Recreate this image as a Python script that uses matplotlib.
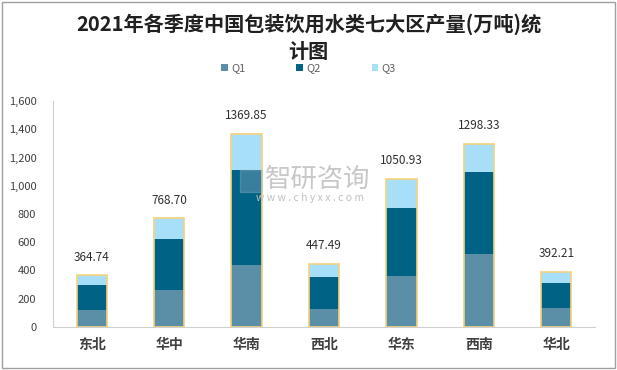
import numpy as np
import matplotlib
matplotlib.use("Agg")
import matplotlib.pyplot as plt
from matplotlib.patches import Rectangle

plt.rcParams['font.family'] = ['Noto Sans CJK SC', 'DejaVu Sans']

regions = ['东北', '华中', '华南', '西北', '华东', '西南', '华北']
q1 = [122, 264, 440, 129, 362, 518, 136]
q2 = [177, 360, 672, 227, 481, 580, 177]
totals = [364.74, 768.70, 1369.85, 447.49, 1050.93, 1298.33, 392.21]
q3 = [t - a - b for t, a, b in zip(totals, q1, q2)]
yticks = [0, 200, 400, 600, 800, 1000, 1200, 1400, 1600]

fig = plt.figure(figsize=(6.17, 3.70), dpi=100)
fig.patches.append(Rectangle((0.003, 0.005), 0.994, 0.99, transform=fig.transFigure,
                             fill=False, edgecolor='#a0a0a0', linewidth=1.0))
ax = fig.add_axes([53 / 617, 43 / 370, 542 / 617, 226 / 370])

x = np.arange(len(regions))
w = 0.39
ax.bar(x, q1, w, color='#5b8fa8', label='Q1', zorder=2)
ax.bar(x, q2, w, bottom=q1, color='#006285', label='Q2', zorder=2)
ax.bar(x, q3, w, bottom=np.array(q1) + np.array(q2), color='#a6dff7', label='Q3', zorder=2)
ax.bar(x, totals, w, fill=False, edgecolor='#f5d27a', linewidth=1.2, zorder=3)

for xi, t in zip(x, totals):
    ax.text(xi, t + 80, f'{t:.2f}', ha='center', va='bottom', fontsize=8.5, color='#303030')

ax.set_xlim(-0.5, len(regions) - 0.5)
ax.set_ylim(0, 1600)
ax.set_yticks(yticks)
ax.set_yticklabels([f'{v:,}' for v in yticks], fontsize=8, color='#404040')
ax.set_xticks(x)
ax.set_xticklabels(regions, fontsize=10, fontweight='bold', color='#404040')
ax.tick_params(axis='both', length=0)
ax.tick_params(axis='x', pad=8)
ax.tick_params(axis='y', pad=12)
for side in ['top', 'right']:
    ax.spines[side].set_visible(False)
ax.spines['left'].set_color('#d0d0d0')
ax.spines['bottom'].set_color('#d0d0d0')

# watermark
fig.text(0.515, 0.515, '智研咨询', fontsize=19, color='#c8c8c8', ha='center', va='center', zorder=0)
fig.text(0.502, 0.465, 'w w w . c h y x x . c o m', fontsize=7.5, color='#c0c0c0', ha='center', va='center')
fig.patches.append(Rectangle((240 / 617, 1 - 192 / 370), 22 / 617, 22 / 370, transform=fig.transFigure,
                             color='#a0b8c8', alpha=0.35, zorder=5))

fig.text(0.5, 0.935, '2021年各季度中国包装饮用水类七大区产量(万吨)统', fontsize=14.5,
         fontweight='bold', ha='center', va='center', color='#202020')
fig.text(0.5, 0.862, '计图', fontsize=14.5, fontweight='bold', ha='center', va='center', color='#202020')

fig.legend(loc='center', bbox_to_anchor=(0.5, 0.815), ncol=3, frameon=False, fontsize=8,
           handlelength=0.6, handleheight=0.6, columnspacing=4.6, handletextpad=0.3,
           labelcolor='#606060')

fig.savefig('out.png', dpi=100)
